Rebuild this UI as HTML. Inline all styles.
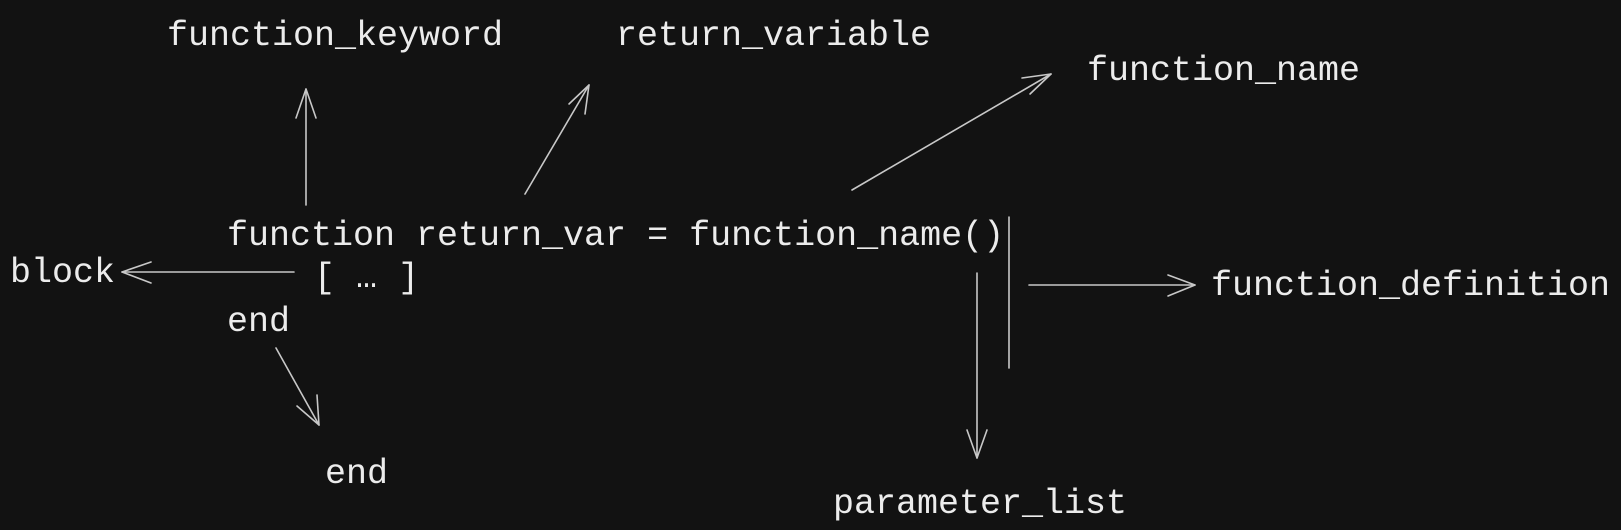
<!DOCTYPE html>
<html><head><meta charset="utf-8"><style>
html,body{margin:0;padding:0;background:#121212;}
svg{display:block}
text{font-family:"Liberation Mono",monospace;font-size:35px;fill:#ececec;}
line,polyline{stroke:#c8c8c8;stroke-width:1.6;fill:none;stroke-linecap:round;stroke-linejoin:round}
</style></head><body>
<svg width="1621" height="530" viewBox="0 0 1621 530" xmlns="http://www.w3.org/2000/svg">
<rect width="1621" height="530" fill="#121212"/>
<text x="167" y="45">function_keyword</text>
<text x="616" y="45">return_variable</text>
<text x="1087" y="80">function_name</text>
<text x="227" y="245">function return_var = function_name()</text>
<text x="10" y="282">block</text>
<text x="314" y="287">[ … ]</text>
<text x="227" y="331">end</text>
<text x="325" y="483">end</text>
<text x="1211" y="295">function_definition</text>
<text x="833" y="513">parameter_list</text>

<line x1="306" y1="205" x2="306" y2="89"/>
<polyline points="296,118 306,89 316,118"/>

<line x1="525" y1="194" x2="589" y2="85"/>
<polyline points="569,104 589,85 585,114"/>

<line x1="852" y1="190" x2="1051" y2="74"/>
<polyline points="1022,78 1051,74 1030,94"/>

<line x1="1009" y1="217" x2="1009" y2="368"/>

<line x1="1029" y1="285" x2="1195" y2="285"/>
<polyline points="1168,275 1195,285 1168,296"/>

<line x1="977" y1="273" x2="977" y2="458"/>
<polyline points="967,430 977,458 987,430"/>

<line x1="294" y1="272" x2="122" y2="272"/>
<polyline points="151,262 122,272 151,283"/>

<line x1="276" y1="348" x2="319" y2="425"/>
<polyline points="297,406 319,425 317,395"/>
</svg>
</body></html>
